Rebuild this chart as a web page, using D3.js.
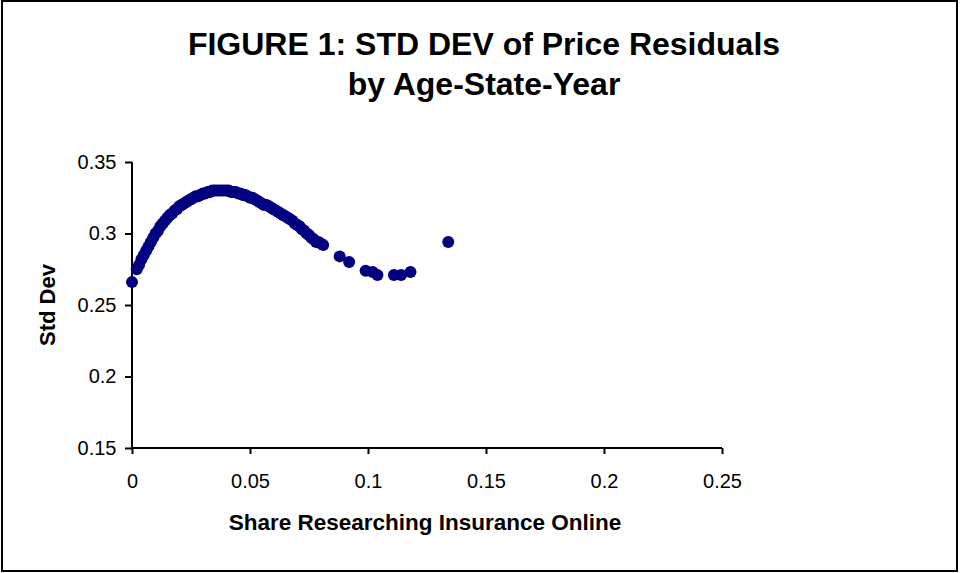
<!DOCTYPE html>
<html>
<head>
<meta charset="utf-8">
<script src="https://cdn.jsdelivr.net/npm/d3@7"></script>
<style>
  html, body { margin: 0; padding: 0; background: #fff; }
  svg { display: block; font-family: Arial, "Liberation Sans", sans-serif; }
</style>
</head>
<body>
<svg id="chart" width="962" height="573"></svg>
<script>
// ---- Data ----
const titleLines = ["FIGURE 1: STD DEV of Price Residuals", "by Age-State-Year"];
const xLabel = "Share Researching Insurance Online";
const yLabel = "Std Dev";
const xTicks = [0, 0.05, 0.1, 0.15, 0.2, 0.25];
const yTicks = [0.15, 0.2, 0.25, 0.3, 0.35];

const shareOnline = [
  0.000, 0.002, 0.003, 0.004, 0.005, 0.006, 0.007, 0.008, 0.009, 0.010,
  0.011, 0.012, 0.013, 0.014, 0.015, 0.016, 0.017, 0.018, 0.019, 0.020,
  0.021, 0.022, 0.023, 0.024, 0.025, 0.026, 0.027, 0.028, 0.029, 0.030,
  0.031, 0.032, 0.033, 0.034, 0.035, 0.036, 0.037, 0.038, 0.039, 0.040,
  0.041, 0.042, 0.043, 0.044, 0.045, 0.046, 0.047, 0.048, 0.049, 0.050,
  0.051, 0.052, 0.053, 0.054, 0.055, 0.056, 0.057, 0.058, 0.059, 0.060,
  0.061, 0.062, 0.063, 0.064, 0.065, 0.066, 0.067, 0.068, 0.069, 0.070,
  0.071, 0.072, 0.073, 0.074, 0.075, 0.076, 0.077, 0.078, 0.079, 0.080,
  0.081, 0.088, 0.092, 0.099, 0.102, 0.104, 0.111, 0.114, 0.118, 0.134
];
const stdDev = [
  0.266, 0.275, 0.278, 0.282, 0.285, 0.288, 0.291, 0.294, 0.297, 0.300,
  0.302, 0.305, 0.307, 0.309, 0.311, 0.313, 0.314, 0.316, 0.317, 0.319,
  0.320, 0.321, 0.322, 0.323, 0.324, 0.325, 0.326, 0.326, 0.327, 0.328,
  0.328, 0.329, 0.329, 0.330, 0.330, 0.330, 0.330, 0.330, 0.330, 0.330,
  0.330, 0.329, 0.329, 0.329, 0.328, 0.328, 0.327, 0.327, 0.326, 0.325,
  0.325, 0.324, 0.323, 0.322, 0.321, 0.320, 0.320, 0.319, 0.318, 0.317,
  0.316, 0.315, 0.314, 0.313, 0.312, 0.311, 0.310, 0.309, 0.307, 0.306,
  0.305, 0.303, 0.302, 0.300, 0.299, 0.297, 0.296, 0.294, 0.294, 0.293,
  0.292, 0.284, 0.280, 0.274, 0.273, 0.271, 0.271, 0.271, 0.273, 0.294
];

// ---- Layout ----
const plot = { left: 132, right: 722, top: 162, bottom: 448 };
const svg = d3.select("#chart");

svg.append("rect")
  .attr("x", 2).attr("y", 1).attr("width", 955).attr("height", 570)
  .attr("fill", "#fff").attr("stroke", "#000").attr("stroke-width", 2);

const x = d3.scaleLinear().domain([0, 0.25]).range([plot.left, plot.right]);
const y = d3.scaleLinear().domain([0.15, 0.35]).range([plot.bottom, plot.top]);

// Title
svg.append("text")
  .attr("x", 484).attr("y", 55)
  .attr("text-anchor", "middle")
  .attr("font-size", 32).attr("font-weight", "bold")
  .selectAll("tspan").data(titleLines).join("tspan")
  .attr("x", 484).attr("dy", (d, i) => i === 0 ? 0 : 40)
  .text(d => d);

// Axes
const xAxis = d3.axisBottom(x).tickValues(xTicks).tickSize(6).tickPadding(20)
  .tickFormat(d => d3.format("")(d));
const yAxis = d3.axisLeft(y).tickValues(yTicks).tickSize(7).tickPadding(8.5)
  .tickFormat(d => d3.format("")(d));

const gx = svg.append("g").attr("transform", `translate(0,${plot.bottom})`).call(xAxis);
const gy = svg.append("g").attr("transform", `translate(${plot.left},0)`).call(yAxis);

[gx, gy].forEach(g => {
  g.select(".domain").attr("stroke", "#000").attr("stroke-width", 2)
    .attr("d", g === gx ? `M${plot.left},0H${plot.right}` : `M0,${plot.top}V${plot.bottom}`);
  g.selectAll(".tick line").attr("stroke", "#000").attr("stroke-width", 2);
  g.selectAll(".tick text").attr("fill", "#000")
    .attr("font-size", 20).attr("font-family", "Arial, 'Liberation Sans', sans-serif");
});

// Axis labels
svg.append("text")
  .attr("x", 425).attr("y", 530)
  .attr("text-anchor", "middle")
  .attr("font-size", 22.5).attr("font-weight", "bold")
  .text(xLabel);

svg.append("text")
  .attr("transform", "translate(55,305) rotate(-90)")
  .attr("text-anchor", "middle")
  .attr("font-size", 22).attr("font-weight", "bold")
  .text(yLabel);

// Points
const points = shareOnline.map((v, i) => ({ x: v, y: stdDev[i] }));
svg.append("g").selectAll("circle").data(points).join("circle")
  .attr("cx", d => x(d.x)).attr("cy", d => y(d.y))
  .attr("r", 6).attr("fill", "#000080");
</script>
</body>
</html>
